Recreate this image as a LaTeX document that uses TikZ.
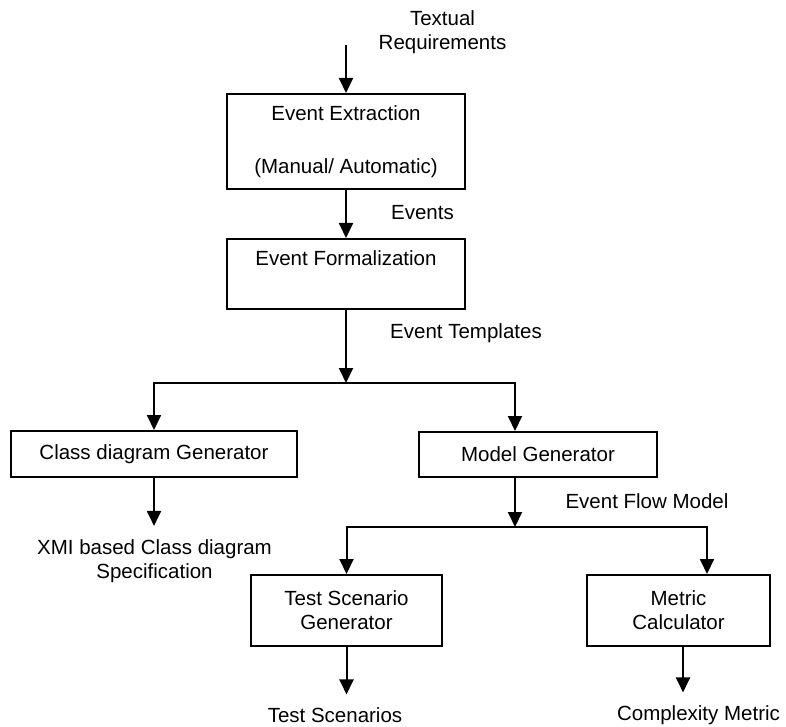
\documentclass[tikz,border=0pt]{standalone}
\usepackage{fontspec}
\setmainfont{Liberation Sans}
\usetikzlibrary{arrows.meta}

\begin{document}
\begin{tikzpicture}[x=1pt, y=-1pt, line width=2pt,
  >={Triangle[length=15pt,width=14pt]},
  every node/.style={font=\fontsize{20.5}{24}\selectfont, align=center},
  box/.style={draw, rectangle, inner sep=0pt},
  lbl/.style={inner sep=0pt}]
\useasboundingbox (0,0) rectangle (786,727);

% top chain
\node [lbl] (reqs) at (442.5,32) {Textual\\Requirements};
\coordinate (in) at (346,45);
\node [box, minimum width=238pt, minimum height=95pt] (extract) at (346,141.5) {Event Extraction\\[29pt](Manual/ Automatic)};
\node [box, minimum width=238pt, minimum height=70pt] (form) at (346,274) {Event Formalization\\\strut};
\node [lbl] (events) at (422.5,213) {Events};
\node [lbl] (templates) at (466,333) {Event Templates};
\coordinate (split1) at (346,383);

% generators
\node [box, minimum width=286pt, minimum height=46pt] (class) at (154,454) {Class diagram Generator};
\node [box, minimum width=238pt, minimum height=45pt] (model) at (538,454.5) {Model Generator};
\node [lbl] (xmi) at (154.5,561.5) {XMI based Class diagram\\Specification};
\node [lbl] (flow) at (647,501) {Event Flow Model};
\coordinate (split2) at (515,527);

% bottom row
\node [box, minimum width=191pt, minimum height=71pt] (test) at (346.5,610.5) {Test Scenario\\Generator};
\node [box, minimum width=183pt, minimum height=71pt] (metric) at (678.5,610.5) {Metric\\Calculator};
\node [lbl] (tsc) at (335,715.5) {Test Scenarios};
\node [lbl] (cplx) at (698.5,715.5) {Complexity Metric};

\draw [->] (in) -- (extract);
\draw [->] (extract) -- (form);
\draw [->] (form) -- (split1);
\draw [->] (split1) -| (class);
\draw [->] (split1) -| (model.north -| split2);
\draw [->] (model.south -| split2) -- (split2);
\draw [->] (split2) -| (test);
\draw [->] (split2) -| ([xshift=28.5pt]metric.north);
\draw [->, shorten >=13pt] (class.south) -- (class.south |- xmi.north);
\draw [->, shorten >=12.5pt] (test.south) -- (test.south |- tsc.north);
\draw [->, shorten >=12.5pt] ([xshift=4.5pt]metric.south) -- ([xshift=4.5pt]metric.south |- cplx.north);
\end{tikzpicture}
\end{document}
